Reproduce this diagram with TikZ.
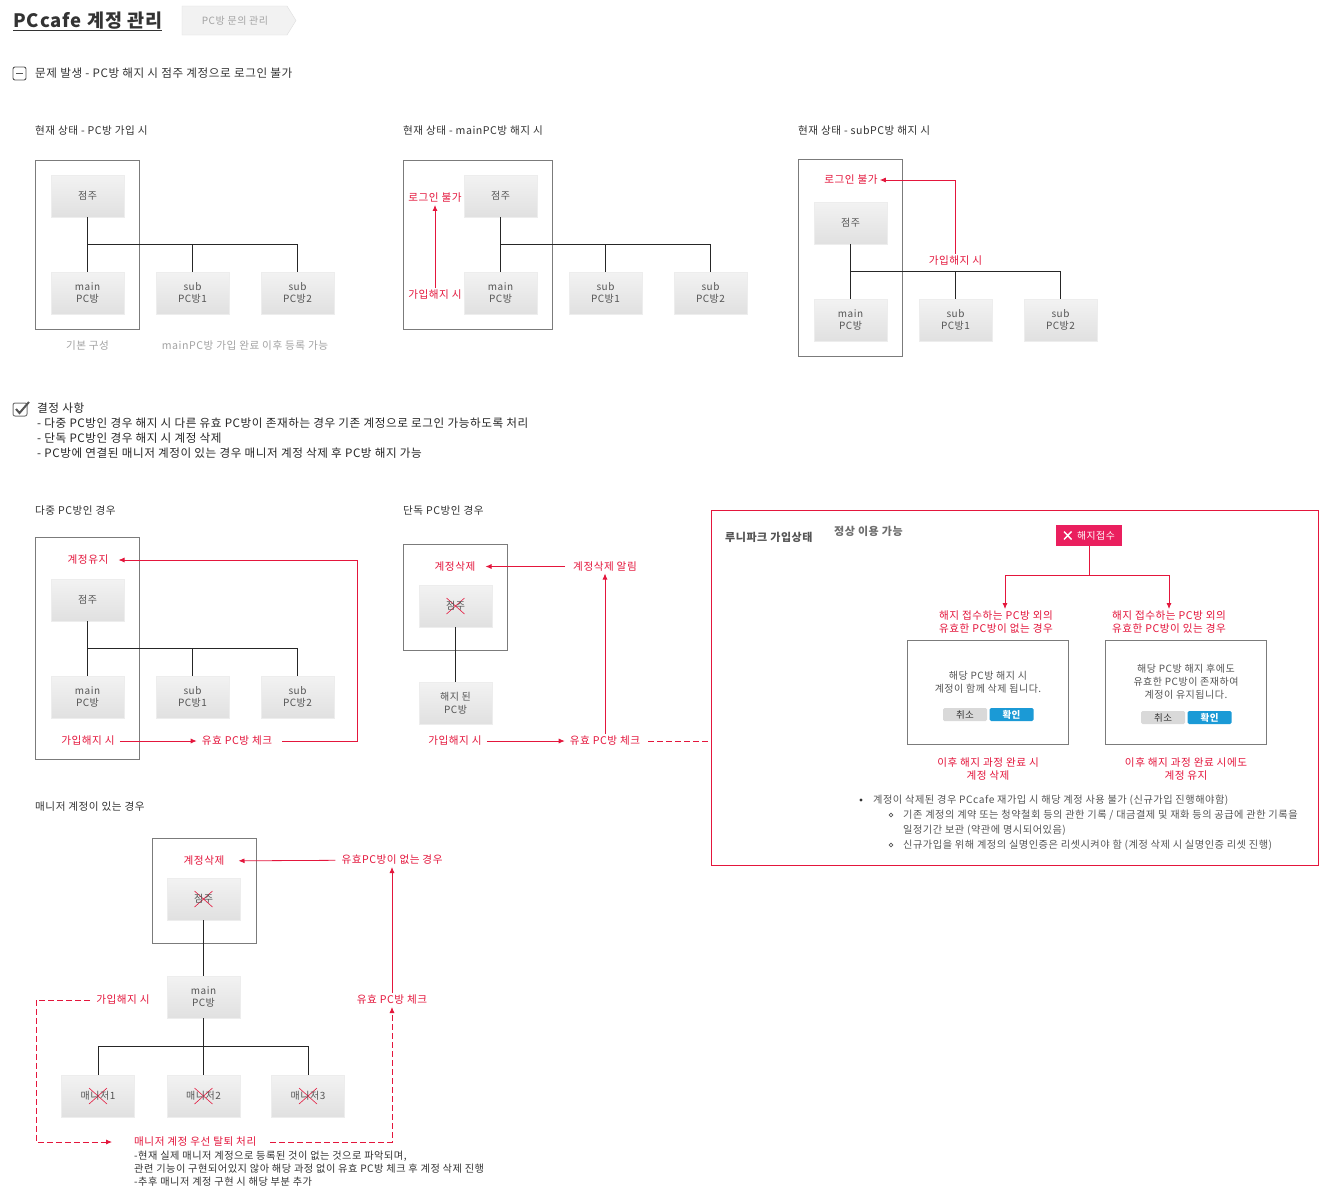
\documentclass[tikz,border=0pt]{standalone}
\usepackage{fontspec}
\setmainfont{Noto Sans CJK KR}[LetterSpace=5]
\usetikzlibrary{arrows.meta,positioning}

\definecolor{pcred}{HTML}{E4163C}
\definecolor{btnred}{HTML}{EA1F5E}
\definecolor{okblue}{HTML}{1B9AD6}
\definecolor{pcdark}{HTML}{333333}
\definecolor{pcmid}{HTML}{555555}
\definecolor{pcgray}{HTML}{A3A3A3}
\definecolor{pcframe}{HTML}{7B7B7B}

\newcommand\fsz[2]{\fontsize{#1}{#2}\selectfont}

\tikzset{
  pcbox/.style={draw=white!93!black, top color=white!95!black, bottom color=white!88!black,
    minimum width=73pt, minimum height=42pt, inner sep=0pt, align=center, text=pcmid,
    font=\fsz{10}{12.5}},
  xbox/.style={pcbox, path picture={
    \draw[pcred, line width=0.6pt]
      ([shift={(-9pt,-8pt)}]path picture bounding box.center) -- ([shift={(9pt,8pt)}]path picture bounding box.center)
      ([shift={(-9pt,8pt)}]path picture bounding box.center) -- ([shift={(9pt,-8pt)}]path picture bounding box.center);}},
  frm/.style={draw=pcframe, line width=0.9pt},
  tree/.style={draw=black!85, line width=0.9pt},
  lbl/.style={anchor=west, text=pcdark, font=\fsz{10.6}{13}, inner sep=0pt},
  redtxt/.style={text=pcred, font=\fsz{10.6}{13}, align=center, inner sep=2pt},
  rline/.style={draw=pcred, line width=0.8pt},
  rarr/.style={rline, -{Latex[length=6pt,width=5pt]}},
  rdash/.style={rarr, dash pattern=on 6pt off 3pt},
  cbtn/.style={fill=white!85!black, text=pcdark, minimum width=44pt, minimum height=13pt,
    inner sep=0pt, font=\fsz{9.5}{11}, rounded corners=1.5pt},
  obtn/.style={cbtn, fill=okblue, text=white, font=\bfseries\fsz{9.5}{11}},
  note/.style={anchor=west, text=pcmid, font=\fsz{10.2}{13}, inner sep=0pt}
}

\begin{document}
\begin{tikzpicture}[x=1pt,y=-1pt]

  \fill[white] (0,0) rectangle (1328,1200);
  \useasboundingbox (0,0) rectangle (1328,1200);

  % header
  \node[anchor=west, font=\bfseries\fsz{18.5}{22}, text=pcdark, inner sep=0pt] (t0) at (13,21) {PCcafe 계정 관리};
  \draw[pcdark, line width=1pt] ([yshift=-3pt]t0.base west) -- ([yshift=-3pt]t0.base east);
  \draw[fill=white!95!black, draw=white!87!black] (182,6) -- (287,6) -- (296,20.5) -- (287,35) -- (182,35) -- cycle;
  \node[text=pcgray, font=\fsz{10}{11}] (t1) at (235,20.5) {PC방 문의 관리};

  \draw[pcmid, line width=0.9pt, rounded corners=2pt] (13,67) rectangle (26,80);
  \draw[pcmid, line width=0.9pt] (16,73.5) -- (23,73.5);
  \node[lbl, font=\fsz{11.6}{14}] (t2) at (35,73.5) {문제 발생 - PC방 해지 시 점주 계정으로 로그인 불가};

  % current state: join
  \node[lbl] (a0) at (35,131) {현재 상태 - PC방 가입 시};
  \draw[frm] (35,160) rectangle (139,329);
  \begin{scope}[every node/.style={pcbox}]
    \node (a1) at (87.5,196) {점주};
    \node (a2) at (87.5,293) {main\\PC방};
    \node (a3) at (192.5,293) {sub\\PC방1};
    \node (a4) at (297.5,293) {sub\\PC방2};
  \end{scope}
  \coordinate (a5) at (87.5,244);
  \draw[tree] (a1) -- (a2);
  \draw[tree] (a5) -| (a3);
  \draw[tree] (a5) -| (a4);
  \begin{scope}[every node/.style={text=pcgray, font=\fsz{10.6}{12}}]
    \node (a6) at (87.5,346) {기본 구성};
    \node (a7) at (245,346) {mainPC방 가입 완료 이후 등록 가능};
  \end{scope}

  % current state: main cancelled
  \node[lbl] (b0) at (403,131) {현재 상태 - mainPC방 해지 시};
  \draw[frm] (403,160) rectangle (552,329);
  \begin{scope}[every node/.style={pcbox}]
    \node (b1) at (500.5,196) {점주};
    \node (b2) at (500.5,293) {main\\PC방};
    \node (b3) at (605.5,293) {sub\\PC방1};
    \node (b4) at (710.5,293) {sub\\PC방2};
  \end{scope}
  \coordinate (b7) at (500.5,244);
  \draw[tree] (b1) -- (b2);
  \draw[tree] (b7) -| (b3);
  \draw[tree] (b7) -| (b4);
  \node[redtxt] (b5) at (435,198) {로그인 불가};
  \node[redtxt] (b6) at (435,295) {가입해지 시};
  \draw[rarr] (b6) -- (b5);

  % current state: sub cancelled
  \node[lbl] (c0) at (798,131) {현재 상태 - subPC방 해지 시};
  \draw[frm] (798,159) rectangle (902,356);
  \begin{scope}[every node/.style={pcbox}]
    \node (c1) at (850.5,223) {점주};
    \node (c2) at (850.5,320) {main\\PC방};
    \node (c3) at (955.5,320) {sub\\PC방1};
    \node (c4) at (1060.5,320) {sub\\PC방2};
  \end{scope}
  \coordinate (c7) at (850.5,271);
  \draw[tree] (c1) -- (c2);
  \draw[tree] (c7) -| (c3);
  \draw[tree] (c7) -| (c4);
  \node[redtxt] (c5) at (851,180) {로그인 불가};
  \node[redtxt] (c6) at (955.5,261) {가입해지 시};
  \draw[rarr] (c6) |- (c5);

  % decisions
  \draw[pcmid!80, line width=1pt, rounded corners=2pt] (13,403) rectangle (27,416);
  \draw[pcmid, line width=2pt] (16,409) -- (19.5,413) -- (29,402);
  \begin{scope}[every node/.style={lbl, font=\fsz{11.6}{14}, text=black!85}]
    \node (s0) at (37,408) {결정 사항};
    \node (s1) at (37,423) {- 다중 PC방인 경우 해지 시 다른 유효 PC방이 존재하는 경우 기존 계정으로 로그인 가능하도록 처리};
    \node (s2) at (37,438) {- 단독 PC방인 경우 해지 시 계정 삭제};
    \node (s3) at (37,453) {- PC방에 연결된 매니저 계정이 있는 경우 매니저 계정 삭제 후 PC방 해지 가능};
  \end{scope}

  % multiple PC rooms
  \node[lbl] (d0) at (35,511) {다중 PC방인 경우};
  \draw[frm] (35,537) rectangle (139,759);
  \begin{scope}[every node/.style={pcbox}]
    \node (d1) at (87.5,600) {점주};
    \node (d2) at (87.5,697) {main\\PC방};
    \node (d3) at (192.5,697) {sub\\PC방1};
    \node (d4) at (297.5,697) {sub\\PC방2};
  \end{scope}
  \coordinate (dc) at (87.5,648);
  \draw[tree] (d1) -- (d2);
  \draw[tree] (dc) -| (d3);
  \draw[tree] (dc) -| (d4);
  \node[redtxt] (d5) at (88,560) {계정유지};
  \node[redtxt] (d6) at (88,741) {가입해지 시};
  \node[redtxt] (d7) at (237,741) {유효 PC방 체크};
  \coordinate (d8) at (357,741);
  \coordinate (d9) at (357,560);
  \draw[rarr, shorten <=3pt, shorten >=3pt] (d6) -- (d7);
  \draw[rarr, shorten <=8pt, shorten >=8pt] (d7) -- (d8) -- (d9) -- (d5);

  % red frame: cancel request
  \node[draw=pcred, line width=0.9pt, minimum width=607pt, minimum height=355pt,
        anchor=north west, inner sep=0pt] (g0) at (711,510) {};
  \node[anchor=west, font=\bfseries\fsz{11}{13}, text=pcmid, inner sep=0pt] (g1) at (725,537) {루니파크 가입상태};
  \node[anchor=west, font=\bfseries\fsz{11}{13}, text=pcmid!85, inner sep=0pt] (g2) at (834,531) {정상 이용 가능};
  \node[fill=btnred, text=white, font=\fsz{9.8}{12}, minimum width=66pt, minimum height=21pt,
        inner sep=0pt] (g3) at (1089,535.5) {\hspace*{14pt}해지접수};
  \draw[white, line width=1.4pt] (1064,531.5) -- (1071.5,539.5) (1064,539.5) -- (1071.5,531.5);
  \coordinate (g4) at (1089,575);
  \node[redtxt] (g5) at (996,622.5) {해지 접수하는 PC방 외의\\유효한 PC방이 없는 경우};
  \node[redtxt] (g6) at (1169,622.5) {해지 접수하는 PC방 외의\\유효한 PC방이 있는 경우};
  \draw[rline] (g3) -- (g4);
  \draw[rarr] (g4) -| ([xshift=9pt]g5.north);
  \draw[rarr] (g4) -| (g6.north);

  \begin{scope}[every node/.style={draw=pcframe, line width=0.9pt, minimum width=161pt, minimum height=104pt, inner sep=0pt}]
    \node (g7) at (987.5,692) {};
    \node (g8) at (1185.5,692) {};
  \end{scope}
  \begin{scope}[every node/.style={font=\fsz{10}{13}, text=pcmid, align=center, inner sep=0pt}]
    \node (g9) at (988,682.5) {해당 PC방 해지 시\\계정이 함께 삭제 됩니다.};
    \node (g10) at (1186,682) {해당 PC방 해지 후에도\\유효한 PC방이 존재하여\\계정이 유지됩니다.};
  \end{scope}
  \node[cbtn] (g11) at (965,714.5) {취소};
  \node[obtn] (g12) at (1011.5,714.5) {확인};
  \node[cbtn] (g13) at (1163,717.5) {취소};
  \node[obtn] (g14) at (1209.5,717.5) {확인};
  \node[redtxt] (g15) at (988,768.5) {이후 해지 과정 완료 시\\계정 삭제};
  \node[redtxt] (g16) at (1186,768.5) {이후 해지 과정 완료 시에도\\계정 유지};

  \fill[pcdark] (861,800) circle (1.6pt);
  \draw[pcmid, line width=0.7pt] (891,815) circle (1.8pt) (891,845) circle (1.8pt);
  \node[note] (g17) at (873,800) {계정이 삭제된 경우 PCcafe 재가입 시 해당 계정 사용 불가 (신규가입 진행해야함)};
  \node[note] (g18) at (903,815) {기존 계정의 계약 또는 청약철회 등의 관한 기록 / 대금결제 및 재화 등의 공급에 관한 기록을};
  \node[note] (g19) at (903,830) {일정기간 보관 (약관에 명시되어있음)};
  \node[note] (g20) at (903,845) {신규가입을 위해 계정의 실명인증은 리셋시켜야 함 (계정 삭제 시 실명인증 리셋 진행)};

  % single PC room
  \node[lbl] (e0) at (403,511) {단독 PC방인 경우};
  \draw[frm] (403,544) rectangle (507,650);
  \node[xbox] (e1) at (455.5,606) {점주};
  \node[pcbox] (e2) at (455.5,703) {해지 된\\PC방};
  \draw[tree] (e1) -- (e2);
  \node[redtxt] (e5) at (455,566.5) {계정삭제};
  \node[redtxt] (e6) at (455,741) {가입해지 시};
  \node[redtxt] (e7) at (605,741) {유효 PC방 체크};
  \node[redtxt] (e8) at (605,566.5) {계정삭제 알림};
  \draw[rarr, shorten <=3pt, shorten >=3pt] (e6) -- (e7);
  \draw[rarr] (e7) -- (e8);
  \draw[rarr, shorten <=6pt, shorten >=8pt] (e8) -- (e5);
  \draw[rline, dash pattern=on 6pt off 3pt, shorten <=6pt] (e7) -- (e7 -| g0.west);

  % manager accounts
  \node[lbl] (f0) at (35,807) {매니저 계정이 있는 경우};
  \draw[frm] (152,838) rectangle (256,943);
  \node[redtxt] (f1) at (204,861) {계정삭제};
  \node[xbox] (f2) at (203.5,899) {점주};
  \node[pcbox] (f3) at (203.5,997) {main\\PC방};
  \begin{scope}[every node/.style={xbox}]
    \node (f4) at (98,1096) {매니저1};
    \node (f5) at (203.5,1096) {매니저2};
    \node (f6) at (308,1096) {매니저3};
  \end{scope}
  \coordinate (fc) at (203.5,1046);
  \draw[tree] (f2) -- (f3);
  \draw[tree] (f3) -- (f5);
  \draw[tree] (fc) -| (f4);
  \draw[tree] (fc) -| (f6);
  \node[redtxt] (f7) at (123,1000) {가입해지 시};
  \node[redtxt] (f8) at (392,1000) {유효 PC방 체크};
  \node[redtxt] (f9) at (392,860) {유효PC방이 없는 경우};
  \node[redtxt, anchor=west] (fa) at (132,1142) {매니저 계정 우선 탈퇴 처리};
  \coordinate (fb) at (36,1142);
  \draw[rdash, shorten <=4pt, shorten >=20pt] (f7) -| (fb) -- (fa.west);
  \draw[rdash, shorten <=12pt] (fa) -| (f8);
  \draw[rarr] (f8) -- (f9);
  \draw[rarr, shorten <=4pt, shorten >=12pt] (f9) -- (f1);
  \node[anchor=north west, align=left, font=\fsz{10.2}{13}, text=pcdark, inner sep=0pt] (fd) at (134,1151)
    {-현재 실제 매니저 계정으로 등록된 것이 없는 것으로 파악되며,\\관련 기능이 구현되어있지 않아 해당 과정 없이 유효 PC방 체크 후 계정 삭제 진행\\-추후 매니저 계정 구현 시 해당 부분 추가};

\end{tikzpicture}
\end{document}
